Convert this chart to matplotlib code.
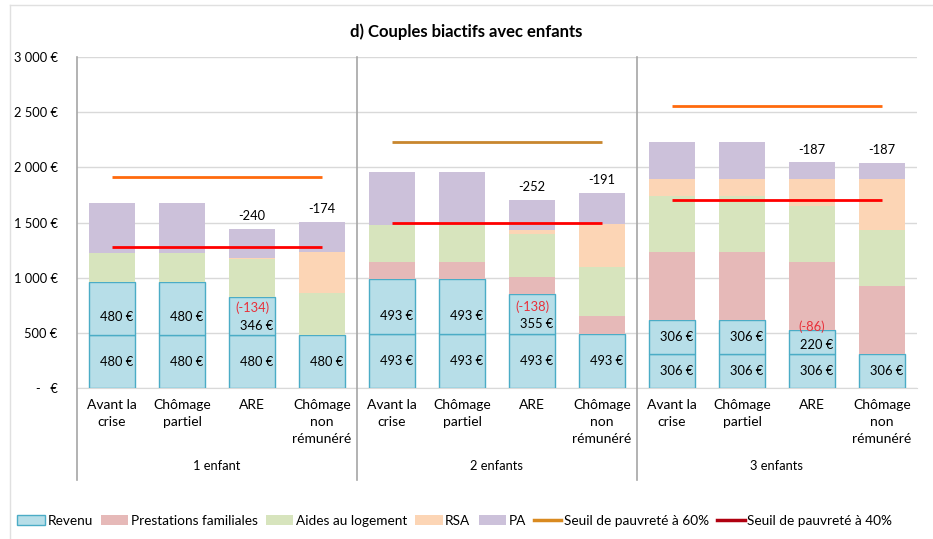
import matplotlib
matplotlib.use("Agg")
from matplotlib import pyplot as plt
from matplotlib.patches import Patch
from matplotlib.lines import Line2D
import matplotlib.transforms as mtransforms
import numpy as np

plt.rcParams['font.family'] = ['Lato', 'DejaVu Sans']

SITUATIONS = ["Avant la\ncrise", "Chômage\npartiel", "ARE", "Chômage\nnon\nrémunéré"]
GROUPS = ["1 enfant", "2 enfants", "3 enfants"]

# revenu split in two earners
revenu1 = [480, 480, 480, 480, 493, 493, 493, 493, 306, 306, 306, 306]
revenu2 = [480, 480, 346, 0, 493, 493, 355, 0, 306, 306, 220, 0]
prestations = [0, 0, 0, 0, 158, 158, 155, 160, 617, 617, 620, 618]
aides_logement = [260, 260, 339, 383, 332, 332, 389, 447, 510, 510, 505, 507]
rsa = [0, 0, 10, 366, 0, 0, 39, 387, 154, 154, 244, 462]
pa = [458, 458, 265, 275, 483, 483, 276, 282, 338, 338, 150, 150]
diff_labels = ["", "", "-240", "-174", "", "", "-252", "-191", "", "", "-187", "-187"]

seuil_60 = [1914, 2231, 2554]
seuil_40 = [1280, 1492, 1703]

C_REV = "#B7DEE8"
C_REV_EDGE = "#4BACC6"
C_PREST = "#E6B9B8"
C_AIDES = "#D7E4BD"
C_RSA = "#FCD5B5"
C_PA = "#CCC1DA"
C_60 = ["#FF6A0D", "#C8862E", "#FF6A0D"]
C_40 = "#FF0000"
FS = 9.3

fig = plt.figure(figsize=(9.33, 5.39), dpi=100)
ax = fig.add_axes([77 / 933, 1 - 388 / 539, 840 / 933, 331 / 539])

x = np.arange(len(revenu1))
w = 0.67
r1 = np.array(revenu1)
r2 = np.array(revenu2)
bottom = np.zeros(len(x))

ax.bar(x, r1, w, bottom=bottom, color=C_REV, edgecolor=C_REV_EDGE, linewidth=1, zorder=3)
bottom += r1
mask = r2 > 0
ax.bar(x[mask], r2[mask], w, bottom=bottom[mask], color=C_REV, edgecolor=C_REV_EDGE, linewidth=1, zorder=3)
bottom += r2
for vals, col in [(prestations, C_PREST), (aides_logement, C_AIDES), (rsa, C_RSA), (pa, C_PA)]:
    v = np.array(vals)
    ax.bar(x, v, w, bottom=bottom, color=col, linewidth=0, zorder=3)
    bottom += v

# labels inside the revenu segments
for i in x:
    ax.text(i + 0.06, r1[i] / 2, f"{r1[i]} €", ha="center", va="center", fontsize=FS, zorder=5)
    if r2[i] == r1[i]:
        ax.text(i + 0.06, r1[i] + min(r2[i] / 2, 160), f"{r2[i]} €", ha="center", va="center",
                fontsize=FS, zorder=5)
    elif r2[i] > 0:
        ax.text(i + 0.06, r1[i] + 85, f"{r2[i]} €", ha="center", va="center", fontsize=FS, zorder=5)
        ax.text(i, r1[i] + 245, f"(-{r1[i] - r2[i]})", ha="center", va="center", fontsize=FS,
                color="#E8303A", zorder=5)
    if diff_labels[i]:
        ax.text(i, bottom[i] + 115, diff_labels[i], ha="center", va="center", fontsize=FS, zorder=5)

# thresholds
for g in range(3):
    xs = [4 * g, 4 * g + 3]
    ax.plot(xs, [seuil_60[g]] * 2, color=C_60[g], lw=2, zorder=4, solid_capstyle="butt")
    ax.plot(xs, [seuil_40[g]] * 2, color=C_40, lw=2, zorder=4, solid_capstyle="butt")

ax.set_xlim(-0.5, 11.5)
ax.set_ylim(0, 3000)
ax.set_yticks(np.arange(0, 3001, 500))
ax.set_yticklabels(["-   €"] + [f"{v:,} €".replace(",", " ") for v in range(500, 3001, 500)], fontsize=FS)
ax.yaxis.grid(True, color="#D9D9D9", lw=1, zorder=0)
ax.set_axisbelow(True)
ax.tick_params(axis="y", length=0, pad=14)
ax.set_xticks(x)
ax.set_xticklabels(SITUATIONS * 3, fontsize=10, linespacing=1.5, va="top")
ax.tick_params(axis="x", length=0, pad=8)
for s in ["top", "right", "left"]:
    ax.spines[s].set_visible(False)
ax.spines["bottom"].set_color("#D9D9D9")

trans = mtransforms.blended_transform_factory(ax.transData, ax.transAxes)
low = -(480 - 388) / 331
for xv in [-0.5, 3.5, 7.5]:
    ax.plot([xv, xv], [1, low], color="#A6A6A6", lw=1.2, transform=trans, clip_on=False, zorder=6)
for g, name in enumerate(GROUPS):
    ax.text(4 * g + 1.5, -(466 - 388) / 331, name, transform=trans, ha="center", va="center", fontsize=FS)

fig.text(0.5, 1 - 32 / 539, "d) Couples biactifs avec enfants", ha="center", va="center",
         fontsize=12, fontweight="bold")

handles = [
    Patch(facecolor=C_REV, edgecolor=C_REV_EDGE, label="Revenu"),
    Patch(facecolor=C_PREST, label="Prestations familiales"),
    Patch(facecolor=C_AIDES, label="Aides au logement"),
    Patch(facecolor=C_RSA, label="RSA"),
    Patch(facecolor=C_PA, label="PA"),
    Line2D([0], [0], color="#D98A20", lw=2.5, label="Seuil de pauvreté à 60%"),
    Line2D([0], [0], color="#B00010", lw=2.5, label="Seuil de pauvreté à 40%"),
]
fig.legend(handles=handles, loc="center left", bbox_to_anchor=(12 / 933, 1 - 521 / 539), ncol=7,
           frameon=False, fontsize=9.8, handlelength=2.0, handleheight=0.7, handletextpad=0.2,
           columnspacing=0.6, borderaxespad=0)

# chart frame edges
fig.add_artist(Line2D([10 / 933, 10 / 933], [0, 1 - 5 / 539], color="#E0E0E0", lw=1))
fig.add_artist(Line2D([10 / 933, 1], [1 - 5 / 539, 1 - 5 / 539], color="#E0E0E0", lw=1))

plt.savefig("out.png", dpi=100)
